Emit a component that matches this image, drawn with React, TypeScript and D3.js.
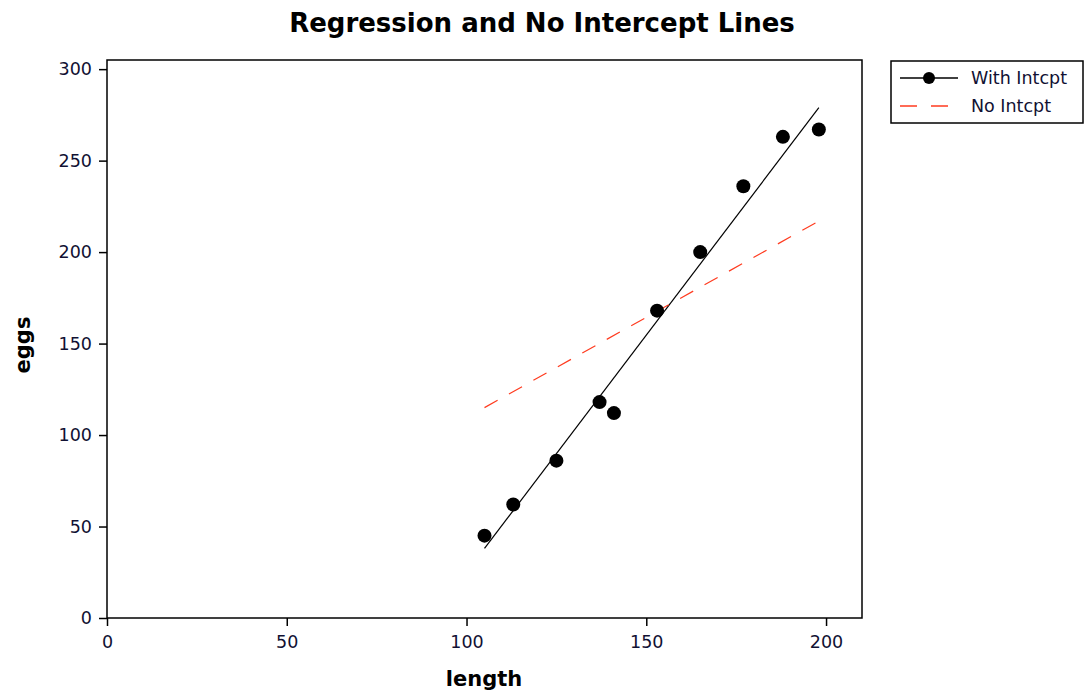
import React, { useEffect, useRef } from "react";
import * as d3 from "d3";

// observed points
const lengths = [105, 113, 125, 137, 141, 153, 165, 177, 188, 198];
const eggs = [45, 62, 86, 118, 112, 168, 200, 236, 263, 267];

// fitted line end values
const fitX = [105, 198];
const withIntcptFit = [38, 279];
const noIntcptFit = [115, 217];

const xTicks = [0, 50, 100, 150, 200];
const yTicks = [0, 50, 100, 150, 200, 250, 300];
const legendLabels = ["With Intcpt", "No Intcpt"];

const FONT = "Tahoma, 'DejaVu Sans', Verdana, sans-serif";

export default function App() {
  const ref = useRef<SVGSVGElement | null>(null);

  useEffect(() => {
    const width = 1086;
    const height = 694;
    const margin = { top: 60, right: 224, bottom: 76, left: 107 };

    const svg = d3.select(ref.current);
    svg.selectAll("*").remove();

    const x = d3.scaleLinear().domain([0, 210]).range([margin.left, width - margin.right]);
    const y = d3.scaleLinear().domain([0, 305]).range([height - margin.bottom, margin.top]);

    svg.append("rect").attr("width", width).attr("height", height).attr("fill", "#fff");

    // frame
    svg.append("rect")
      .attr("x", margin.left)
      .attr("y", margin.top)
      .attr("width", x(210) - x(0))
      .attr("height", y(0) - y(305))
      .attr("fill", "none")
      .attr("stroke", "#000")
      .attr("stroke-width", 1.5);

    // axes
    const xAxis = svg.append("g")
      .attr("transform", `translate(0,${y(0)})`)
      .call(d3.axisBottom(x).tickValues(xTicks).tickSize(8).tickPadding(10).tickFormat(d3.format("d")));
    const yAxis = svg.append("g")
      .attr("transform", `translate(${x(0)},0)`)
      .call(d3.axisLeft(y).tickValues(yTicks).tickSize(8).tickPadding(7).tickFormat(d3.format("d")));

    [xAxis, yAxis].forEach(a => {
      a.select(".domain").remove();
      a.selectAll("line").attr("stroke", "#000").attr("stroke-width", 1.5);
      a.selectAll("text")
        .attr("font-family", FONT)
        .attr("font-size", 17.5)
        .attr("fill", "#111133");
    });

    // regression line (with intercept)
    const line = d3.line<number>().x((_, i) => x(fitX[i])).y(d => y(d));
    svg.append("path")
      .datum(withIntcptFit)
      .attr("d", line)
      .attr("fill", "none")
      .attr("stroke", "#000")
      .attr("stroke-width", 1.2);

    // no intercept line
    svg.append("path")
      .datum(noIntcptFit)
      .attr("d", line)
      .attr("fill", "none")
      .attr("stroke", "#ff3b1f")
      .attr("stroke-width", 1.2)
      .attr("stroke-dasharray", "15,13");

    // points
    svg.selectAll(".pt")
      .data(lengths)
      .enter()
      .append("circle")
      .attr("cx", d => x(d))
      .attr("cy", (_, i) => y(eggs[i]))
      .attr("r", 7)
      .attr("fill", "#000");

    // title
    svg.append("text")
      .attr("x", 542)
      .attr("y", 32)
      .attr("text-anchor", "middle")
      .attr("font-family", FONT)
      .attr("font-size", 26)
      .attr("font-weight", "bold")
      .text("Regression and No Intercept Lines");

    // axis labels
    svg.append("text")
      .attr("x", 484)
      .attr("y", 686)
      .attr("text-anchor", "middle")
      .attr("font-family", FONT)
      .attr("font-size", 21)
      .attr("font-weight", "bold")
      .text("length");

    svg.append("text")
      .attr("transform", `translate(30,345) rotate(-90)`)
      .attr("text-anchor", "middle")
      .attr("font-family", FONT)
      .attr("font-size", 21)
      .attr("font-weight", "bold")
      .text("eggs");

    // legend
    const lg = svg.append("g").attr("transform", "translate(891,61)");
    lg.append("rect")
      .attr("width", 192)
      .attr("height", 62)
      .attr("fill", "#fff")
      .attr("stroke", "#000")
      .attr("stroke-width", 1.5);

    legendLabels.forEach((label, i) => {
      const ly = 17 + i * 28;
      lg.append("line")
        .attr("x1", 9)
        .attr("x2", 67)
        .attr("y1", ly)
        .attr("y2", ly)
        .attr("stroke", i === 0 ? "#000" : "#ff3b1f")
        .attr("stroke-width", 1.5)
        .attr("stroke-dasharray", i === 0 ? null : "17,14");
      if (i === 0) {
        lg.append("circle").attr("cx", 38).attr("cy", ly).attr("r", 6).attr("fill", "#000");
      }
      lg.append("text")
        .attr("x", 80)
        .attr("y", ly + 6)
        .attr("font-family", FONT)
        .attr("font-size", 17.5)
        .attr("fill", "#111133")
        .text(label);
    });
  }, []);

  return (
    <svg
      ref={ref}
      width={1086}
      height={694}
      style={{ position: "absolute", left: 0, top: 0, display: "block" }}
    />
  );
}
